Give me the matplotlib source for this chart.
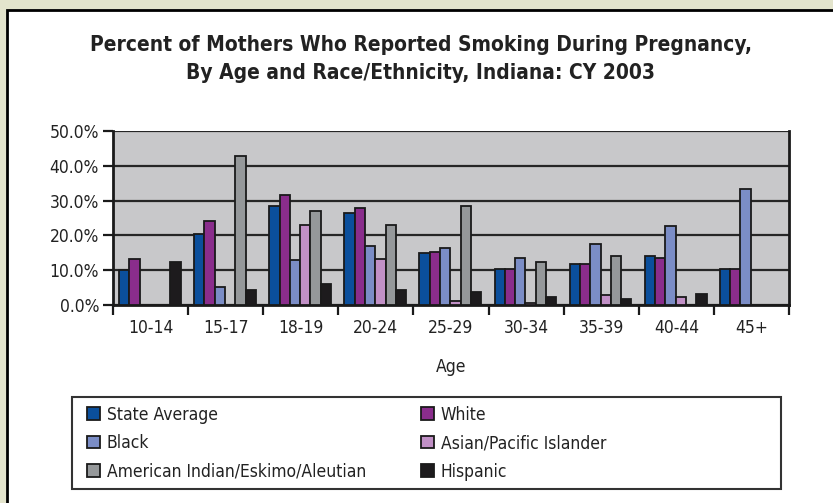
import matplotlib.pyplot as plt
import numpy as np
from matplotlib.patches import Rectangle
from matplotlib.ticker import FuncFormatter

ages = ['10-14', '15-17', '18-19', '20-24', '25-29', '30-34', '35-39', '40-44', '45+']
series = ['State Average', 'White', 'Black', 'Asian/Pacific Islander',
          'American Indian/Eskimo/Aleutian', 'Hispanic']

# percent of mothers smoking; nan = no bar shown
state_avg = [10.0, 20.3, 28.5, 26.5, 14.8, 10.4, 11.9, 14.0, 10.3]
white = [13.3, 24.2, 31.7, 28.0, 15.3, 10.4, 11.9, 13.4, 10.3]
black = [np.nan, 5.1, 13.0, 16.9, 16.3, 13.4, 17.4, 22.7, 33.3]
asian = [np.nan, np.nan, 23.0, 13.2, 1.1, 0.7, 2.8, 2.3, np.nan]
am_indian = [np.nan, 42.7, 27.1, 22.9, 28.5, 12.4, 14.0, np.nan, np.nan]
hispanic = [12.5, 4.3, 5.9, 4.4, 3.7, 2.3, 1.7, 3.3, np.nan]

colors = ['#0b4f9c', '#8a2d8c', '#7b8dc6', '#c190c6', '#95989a', '#1d1b1d']

font = dict(family='DejaVu Sans', stretch='condensed')

fig = plt.figure(figsize=(8.33, 5.03), dpi=100, facecolor='#e3e4cc')

# white panel with black frame behind everything
W, H = 833, 503
fig.patches.append(Rectangle((7 / W, -0.1), 1.1, 1 - 10 / H + 0.1,
                             transform=fig.transFigure, facecolor='white',
                             edgecolor='black', linewidth=2, zorder=-5))

ax = fig.add_axes([113 / W, 1 - 305 / H, 676 / W, 174 / H])
ax.set_zorder(2)
ax.set_facecolor('#c8c8ca')

x = np.arange(len(ages))
bw = 0.137
for j, (vals, name) in enumerate(zip([state_avg, white, black, asian, am_indian, hispanic], series)):
    vals = np.array(vals, dtype=float)
    m = ~np.isnan(vals)
    left = x - 0.5 + 0.08 + j * bw
    ax.bar(left[m], vals[m], width=bw, align='edge', color=colors[j],
           edgecolor='#1a1a1a', linewidth=1.3, label=name, zorder=3)

ax.set_xlim(-0.5, len(ages) - 0.5)
ax.set_ylim(0, 50)
ax.set_yticks(np.arange(0, 51, 10))
ax.yaxis.set_major_formatter(FuncFormatter(lambda v, p: f'{v:.1f}%'))
ax.grid(axis='y', color='#262626', linewidth=1.6, zorder=1)
ax.set_axisbelow(True)

# category separators as major ticks, labels on minor ticks
ax.set_xticks(np.arange(-0.5, len(ages)), labels=[])
ax.set_xticks(x, labels=ages, minor=True)
ax.tick_params(axis='x', which='major', length=7, width=1.6, color='#1a1a1a')
ax.tick_params(axis='x', which='minor', length=0, pad=10, labelsize=12.5, labelcolor='#222222')
ax.tick_params(axis='y', length=7, width=1.6, color='#1a1a1a', labelsize=12.5, labelcolor='#222222', pad=3)
for lab in ax.get_xticklabels(minor=True) + ax.get_yticklabels():
    lab.set_fontstretch('condensed')

for s in ['left', 'bottom', 'right']:
    ax.spines[s].set_linewidth(2)
    ax.spines[s].set_color('#1a1a1a')
ax.spines['top'].set_visible(False)

ax.set_xlabel('Age', fontsize=12.5, color='#222222', labelpad=15, **font)

fig.text(0.505, 1 - 59 / H, 'Percent of Mothers Who Reported Smoking During Pregnancy,\n'
         'By Age and Race/Ethnicity, Indiana: CY 2003', ha='center', va='center',
         fontsize=15, fontweight='bold', color='#222222', linespacing=1.45, **font)

# legend box
fig.patches.append(Rectangle((72 / W, 1 - 489 / H), 709 / W, 92 / H,
                             transform=fig.transFigure, facecolor='white',
                             edgecolor='#333333', linewidth=1.5, zorder=1))
handles, labels = ax.get_legend_handles_labels()
order = [0, 2, 4, 1, 3, 5]
leg = fig.legend([handles[i] for i in order], [labels[i] for i in order],
                 ncol=2, loc='upper left', bbox_to_anchor=(78 / W, 1 - 397 / H),
                 frameon=False, borderpad=0, handlelength=0.75, handleheight=0.75,
                 handletextpad=0.4, labelspacing=0.6, columnspacing=3.15,
                 prop=dict(size=12.5, family='DejaVu Sans', stretch='condensed'))
leg.set_zorder(3)
for t in leg.get_texts():
    t.set_color('#222222')

fig.savefig('out.png', dpi=100, facecolor=fig.get_facecolor())
